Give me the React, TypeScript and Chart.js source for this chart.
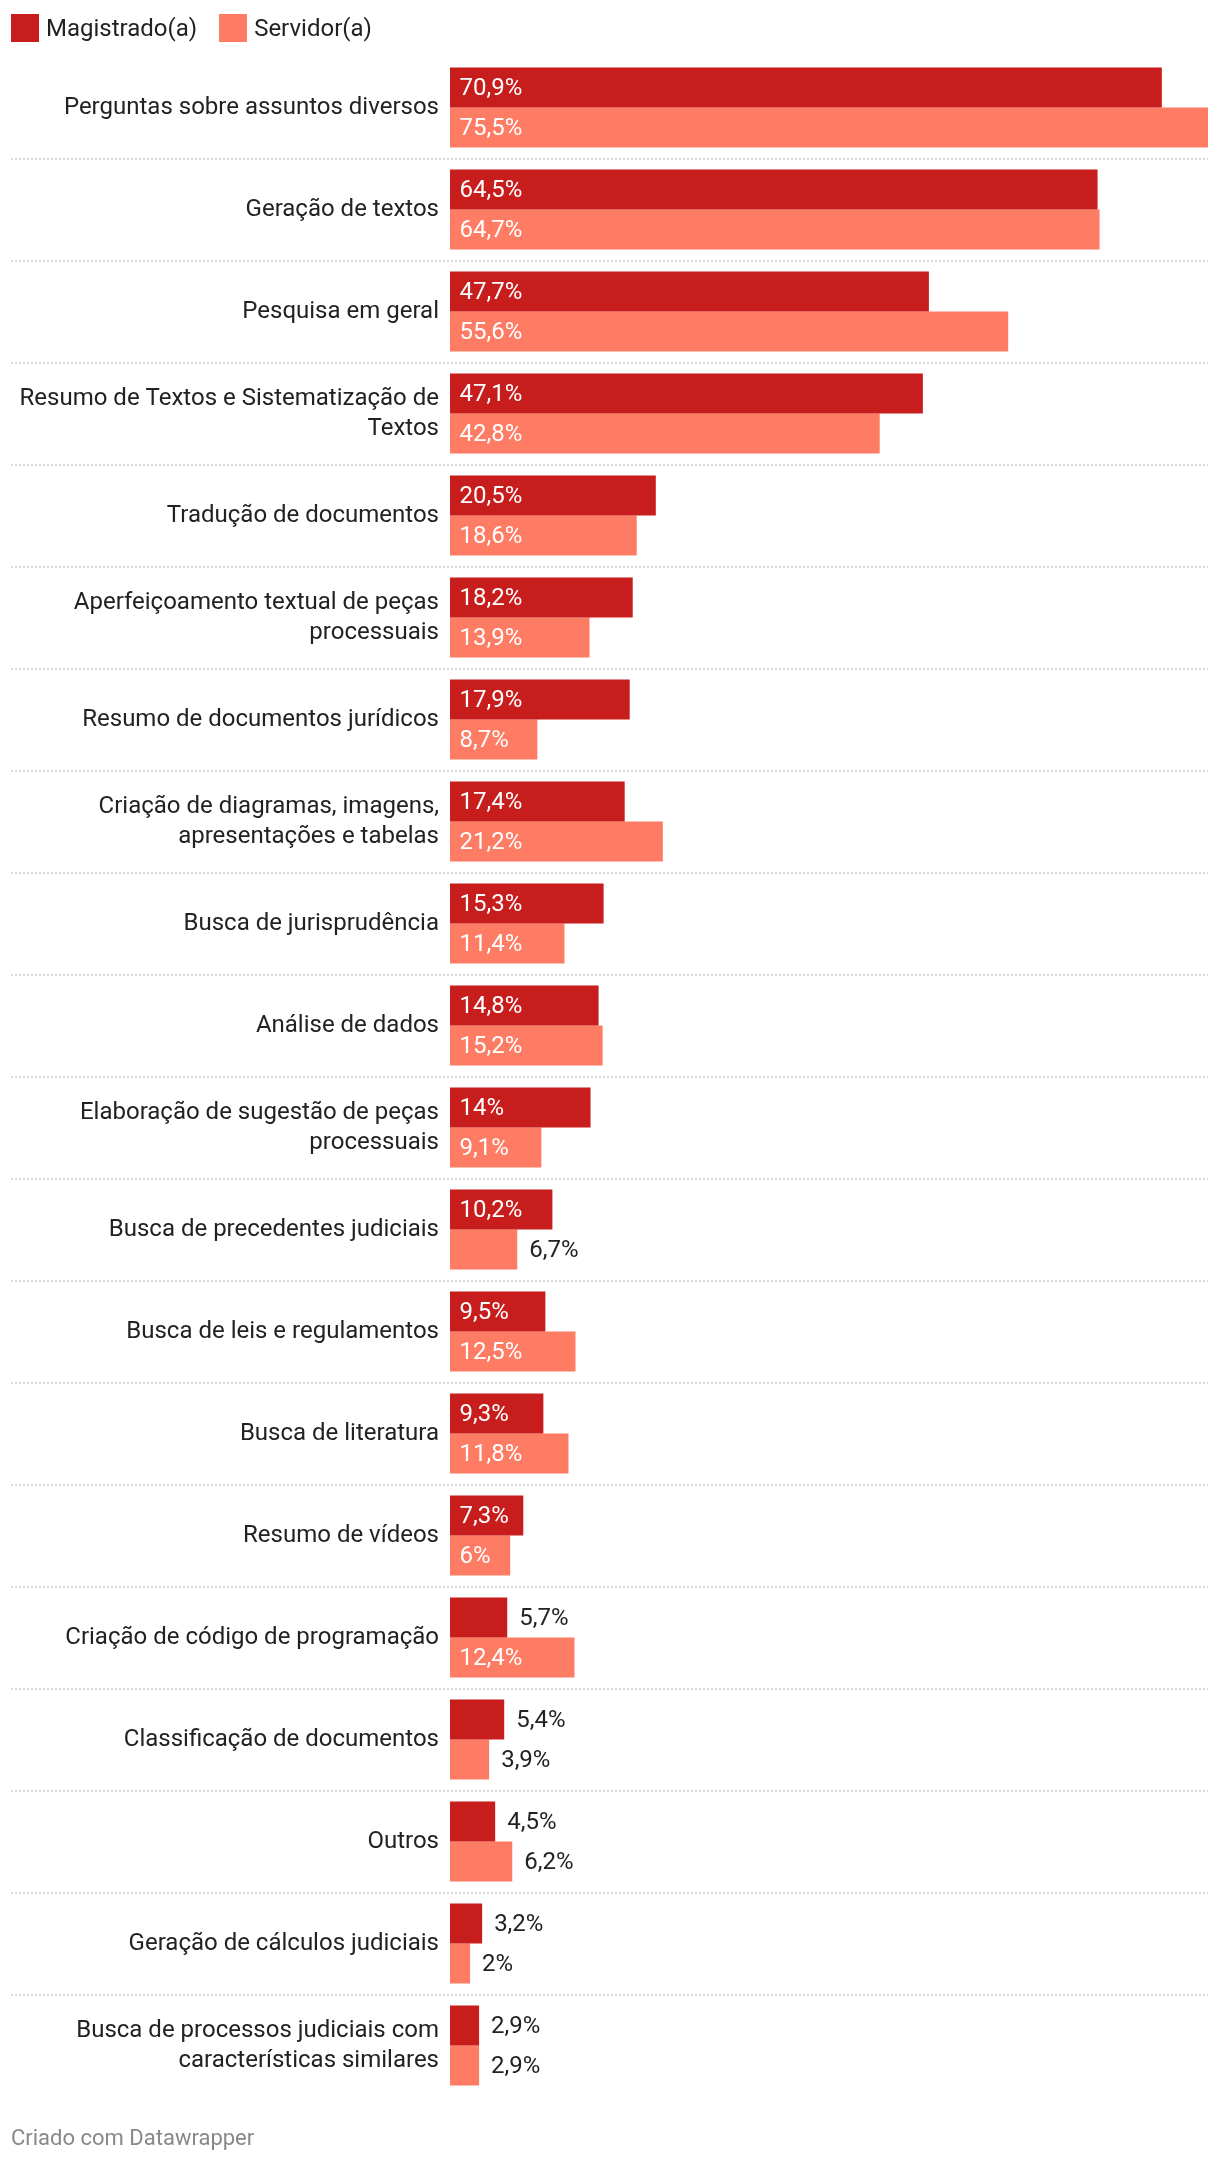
import React, { useEffect, useRef } from 'react';
import { Chart, registerables } from 'chart.js';

Chart.register(...registerables);

const categories: string[] = [
  'Perguntas sobre assuntos diversos',
  'Geração de textos',
  'Pesquisa em geral',
  'Resumo de Textos e Sistematização de\nTextos',
  'Tradução de documentos',
  'Aperfeiçoamento textual de peças\nprocessuais',
  'Resumo de documentos jurídicos',
  'Criação de diagramas, imagens,\napresentações e tabelas',
  'Busca de jurisprudência',
  'Análise de dados',
  'Elaboração de sugestão de peças\nprocessuais',
  'Busca de precedentes judiciais',
  'Busca de leis e regulamentos',
  'Busca de literatura',
  'Resumo de vídeos',
  'Criação de código de programação',
  'Classificação de documentos',
  'Outros',
  'Geração de cálculos judiciais',
  'Busca de processos judiciais com\ncaracterísticas similares',
];

const magistrado: number[] = [70.9, 64.5, 47.7, 47.1, 20.5, 18.2, 17.9, 17.4, 15.3, 14.8, 14, 10.2, 9.5, 9.3, 7.3, 5.7, 5.4, 4.5, 3.2, 2.9];
const servidor: number[] = [75.5, 64.7, 55.6, 42.8, 18.6, 13.9, 8.7, 21.2, 11.4, 15.2, 9.1, 6.7, 12.5, 11.8, 6, 12.4, 3.9, 6.2, 2, 2.9];

const seriesNames: string[] = ['Magistrado(a)', 'Servidor(a)'];
const seriesColors: string[] = ['#c71e1d', '#ff7c64'];

const FONT = 'Roboto, "Noto Sans", "DejaVu Sans", sans-serif';
const TEXT_COLOR = '#222222';
const GRID_LEFT = 11;

function fmt(v: number): string {
  return String(v).replace('.', ',') + '%';
}

const rowLinesPlugin = {
  id: 'rowLines',
  beforeDatasetsDraw(chart: any) {
    const y = chart.scales.y;
    const ctx = chart.ctx;
    ctx.save();
    ctx.strokeStyle = '#cccccc';
    ctx.lineWidth = 1.5;
    ctx.setLineDash([2, 2]);
    for (let i = 0; i < categories.length - 1; i++) {
      const py = Math.round((y.getPixelForValue(i) + y.getPixelForValue(i + 1)) / 2);
      ctx.beginPath();
      ctx.moveTo(GRID_LEFT, py);
      ctx.lineTo(chart.chartArea.right, py);
      ctx.stroke();
    }
    ctx.restore();
  },
};

const valueLabelsPlugin = {
  id: 'valueLabels',
  afterDatasetsDraw(chart: any) {
    const ctx = chart.ctx;
    ctx.save();
    ctx.font = `400 24px ${FONT}`;
    ctx.textBaseline = 'middle';
    ctx.textAlign = 'left';
    chart.data.datasets.forEach((ds: any, d: number) => {
      const meta = chart.getDatasetMeta(d);
      meta.data.forEach((bar: any, i: number) => {
        const v = ds.data[i] as number;
        const { x, y, base } = bar.getProps(['x', 'y', 'base'], true);
        const text = fmt(v);
        const tw = ctx.measureText(text).width;
        const w = x - base;
        if (tw + 20 <= w) {
          ctx.fillStyle = '#ffffff';
          ctx.fillText(text, base + 9.5, y + 1);
        } else {
          ctx.fillStyle = TEXT_COLOR;
          ctx.fillText(text, x + 12, y + 1);
        }
      });
    });
    ctx.restore();
  },
};

export default function App() {
  const canvasRef = useRef<HTMLCanvasElement | null>(null);

  useEffect(() => {
    if (!canvasRef.current) return;
    const chart = new Chart(canvasRef.current, {
      type: 'bar',
      data: {
        labels: categories.map((c) => c.split('\n')),
        datasets: [
          {
            label: seriesNames[0],
            data: magistrado,
            backgroundColor: seriesColors[0],
            borderWidth: 0,
            categoryPercentage: 80 / 102,
            barPercentage: 1,
          },
          {
            label: seriesNames[1],
            data: servidor,
            backgroundColor: seriesColors[1],
            borderWidth: 0,
            categoryPercentage: 80 / 102,
            barPercentage: 1,
          },
        ],
      },
      options: {
        indexAxis: 'y',
        responsive: false,
        animation: false,
        devicePixelRatio: 1,
        layout: { padding: { top: 56.6, bottom: 67.4, left: 0, right: 12 } },
        plugins: {
          legend: { display: false },
          tooltip: { enabled: false },
        },
        scales: {
          x: { min: 0, max: 75.5, display: false },
          y: {
            grid: { display: false, drawTicks: false },
            border: { display: false },
            ticks: {
              autoSkip: false,
              color: TEXT_COLOR,
              padding: 11,
              font: { family: FONT, size: 24, lineHeight: 1.25 },
            },
            afterFit(scale: any) {
              scale.width = 450;
            },
          },
        },
      },
      plugins: [rowLinesPlugin, valueLabelsPlugin],
    } as any);
    return () => chart.destroy();
  }, []);

  return (
    <div style={{ position: 'absolute', left: 0, top: 0, width: 1220, height: 2164, background: '#ffffff', fontFamily: FONT }}>
      <canvas ref={canvasRef} width={1220} height={2164} style={{ display: 'block', position: 'absolute', left: 0, top: 0 }} />
      <div style={{ position: 'absolute', left: 11, top: 14, height: 28, display: 'flex', alignItems: 'center' }}>
        {seriesNames.map((n, i) => (
          <div key={n} style={{ display: 'flex', alignItems: 'center', marginRight: 22 }}>
            <span style={{ display: 'inline-block', width: 28, height: 28, background: seriesColors[i], marginRight: 7 }} />
            <span style={{ fontSize: 24, color: TEXT_COLOR, lineHeight: '28px' }}>{n}</span>
          </div>
        ))}
      </div>
      <div style={{ position: 'absolute', left: 11, top: 2125, fontSize: 22, lineHeight: '26px', color: '#888888' }}>
        Criado com Datawrapper
      </div>
    </div>
  );
}
